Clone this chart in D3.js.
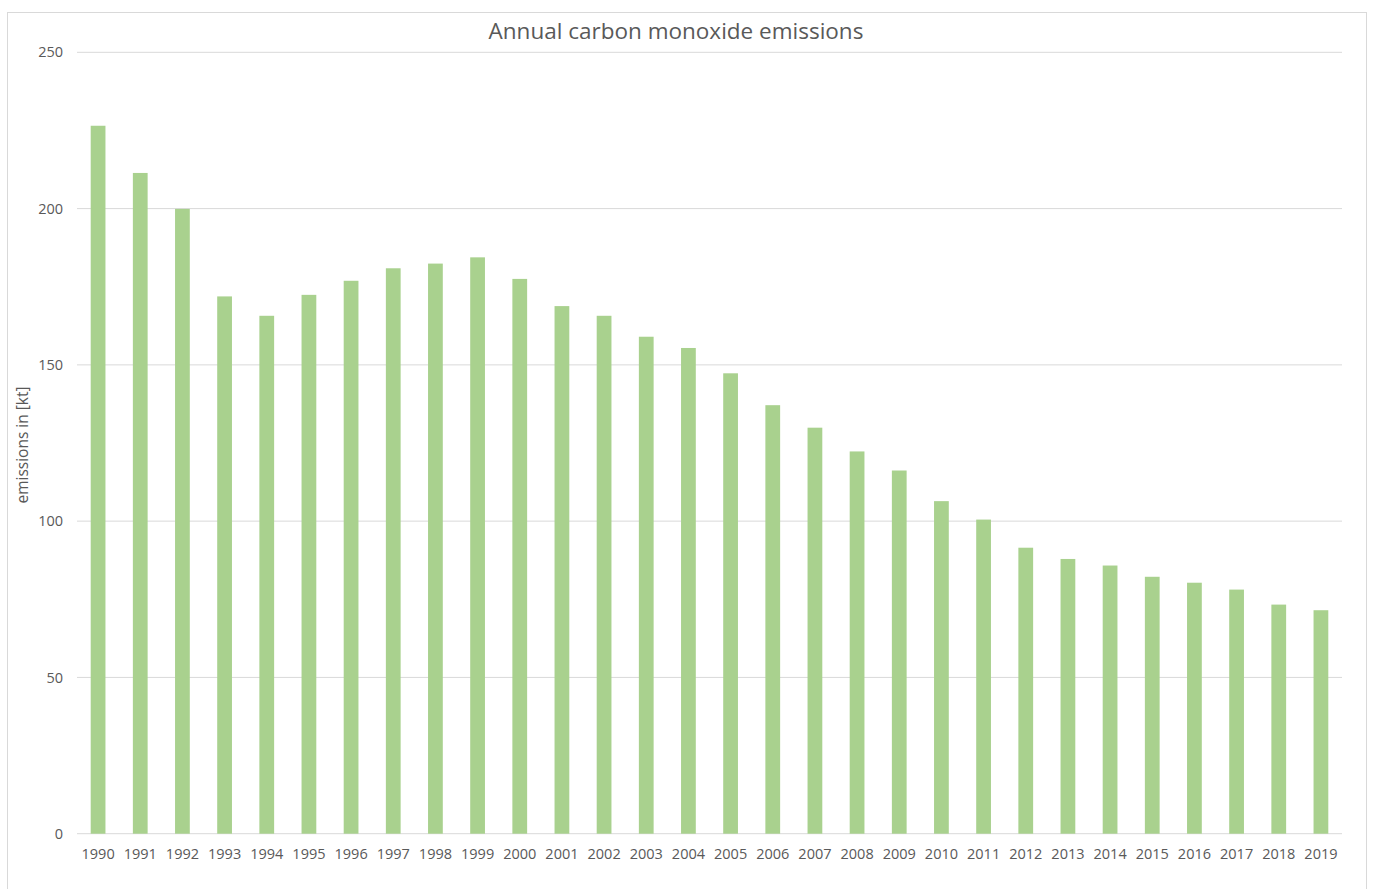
<!DOCTYPE html>
<html><head><meta charset="utf-8">
<script src="https://cdn.jsdelivr.net/npm/d3@7"></script>
<style>body{margin:0;background:#fff;}svg{display:block;}</style>
</head><body>
<svg id="c" width="1375" height="889"></svg>
<script>
const years = ["1990","1991","1992","1993","1994","1995","1996","1997","1998","1999","2000","2001","2002","2003","2004","2005","2006","2007","2008","2009","2010","2011","2012","2013","2014","2015","2016","2017","2018","2019"];
const emissions = [226.5,211.4,199.9,171.9,165.7,172.4,176.9,180.9,182.4,184.4,177.5,168.8,165.7,159.0,155.4,147.3,137.1,129.9,122.3,116.2,106.4,100.5,91.5,87.9,85.8,82.2,80.3,78.1,73.3,71.5];
const yTicks = [0,50,100,150,200,250];
const title = "Annual carbon monoxide emissions";
const yTitle = "emissions in [kt]";

const svg = d3.select("#c");
const font = "'Open Sans', Lato, sans-serif";
svg.append("rect").attr("x",7.5).attr("y",12.5).attr("width",1359).attr("height",890)
  .attr("fill","#fff").attr("stroke","#d9d9d9");

const L=77, R=1342, T=52.3, B=833.7;
const x = d3.scaleBand().domain(years).range([L,R]).paddingInner(0.65).paddingOuter(0.325);
const y = d3.scaleLinear().domain([0,250]).range([B,T]);

const g = svg.append("g");
g.selectAll("line.grid").data(yTicks).join("line").attr("class","grid")
  .attr("x1",L).attr("x2",R).attr("y1",d=>y(d)).attr("y2",d=>y(d))
  .attr("stroke","#d9d9d9").attr("stroke-width",1);

g.selectAll("rect.bar").data(emissions).join("rect").attr("class","bar")
  .attr("x",(d,i)=>x(years[i])).attr("width",x.bandwidth())
  .attr("y",d=>y(d)).attr("height",d=>B-y(d)).attr("fill","#a9d18e");

const yAxis = d3.axisLeft(y).tickValues(yTicks).tickSize(0).tickPadding(0);
const ya = svg.append("g").attr("transform",`translate(63,0)`).call(yAxis);
ya.select(".domain").remove();
ya.selectAll("text").attr("fill","#595959").style("font-family",font).style("font-size","14.5px");

const xAxis = d3.axisBottom(x).tickSize(0).tickPadding(0);
const xa = svg.append("g").attr("transform",`translate(0,${B+15})`).call(xAxis);
xa.select(".domain").remove();
xa.selectAll("text").attr("fill","#595959").style("font-family",font).style("font-size","14.5px");

svg.append("text").attr("x",676).attr("y",39).attr("text-anchor","middle")
  .attr("fill","#595959").style("font-family",font).style("font-size","22.5px").text(title);

svg.append("text").attr("transform","translate(28,445) rotate(-90)").attr("text-anchor","middle")
  .attr("fill","#595959").style("font-family",font).style("font-size","15.5px").text(yTitle);
</script>
</body></html>
